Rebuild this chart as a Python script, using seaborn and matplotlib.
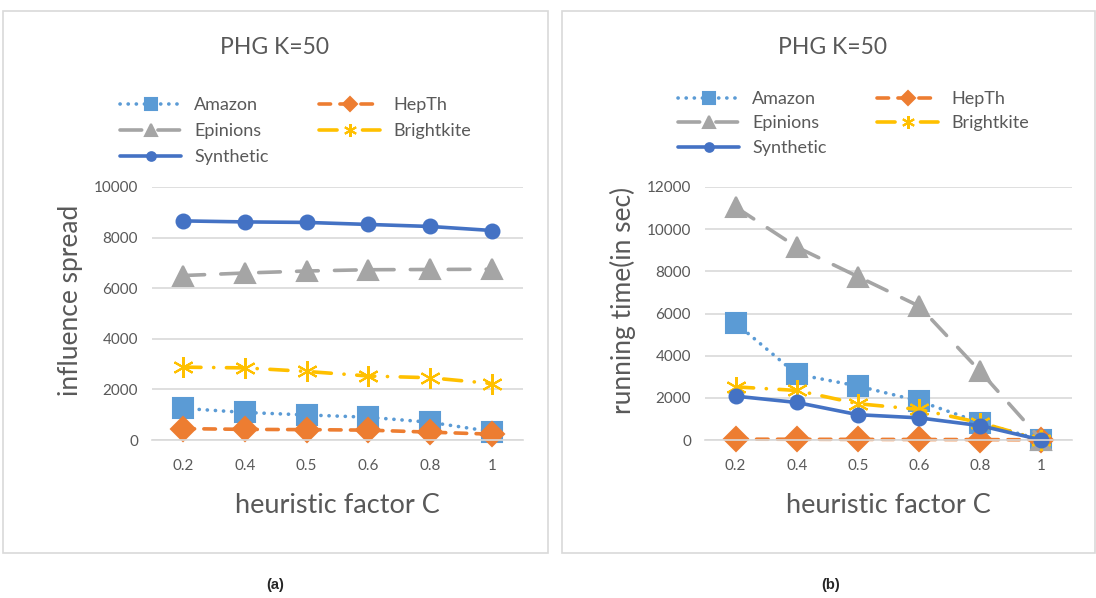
import matplotlib
matplotlib.use("Agg")
import matplotlib.pyplot as plt
import seaborn as sns
from matplotlib.patches import Rectangle

# Daten
c_labels = ["0.2", "0.4", "0.5", "0.6", "0.8", "1"]
series_names = ["Amazon", "HepTh", "Epinions", "Brightkite", "Synthetic"]

# (a) influence spread
spread_amazon = [1250, 1090, 990, 900, 700, 330]
spread_hepth = [450, 420, 410, 390, 310, 230]
spread_epinions = [6500, 6600, 6680, 6730, 6740, 6750]
spread_brightkite = [2880, 2850, 2710, 2530, 2460, 2230]
spread_synthetic = [8660, 8620, 8600, 8520, 8440, 8280]

# (b) running time
time_amazon = [5550, 3120, 2560, 1850, 820, 0]
time_hepth = [40, 35, 30, 25, 20, 10]
time_epinions = [11050, 9150, 7750, 6350, 3250, 0]
time_brightkite = [2520, 2350, 1720, 1450, 820, 0]
time_synthetic = [2080, 1780, 1200, 1050, 680, 0]

sns.set_style("white")
plt.rcParams['font.family'] = ['Lato', 'DejaVu Sans']
txt = "#595959"
grid = "#D9D9D9"

styles = {
    "Amazon": dict(color="#5B9BD5", marker="s", markersize=14, dashes=(0.05, 2.2)),
    "HepTh": dict(color="#ED7D31", marker="D", markersize=12, dashes=(3.2, 2.6)),
    "Epinions": dict(color="#A5A5A5", marker="^", markersize=15, dashes=(6, 4.5)),
    "Brightkite": dict(color="#FFC000", marker=(6, 2, 0), markersize=15, dashes=(5, 3.5, 0.05, 3.5)),
    "Synthetic": dict(color="#4472C4", marker="o", markersize=10, dashes=None),
}

fig = plt.figure(figsize=(10.96, 5.98), dpi=100)

# Rahmen der beiden Diagramme
W, H = 1096, 598
for x0, x1 in [(3, 548), (562, 1095)]:
    fig.patches.append(Rectangle((x0 / W, 1 - 553 / H), (x1 - x0) / W, (553 - 11) / H,
                                 transform=fig.transFigure, fill=False, edgecolor=grid, lw=1.2))


def draw(ax, data, ymax, ylabel):
    for name in series_names:
        st = styles[name]
        kw = dict(color=st["color"], marker=st["marker"], markersize=st["markersize"],
                  markerfacecolor=st["color"], markeredgecolor=st["color"], markeredgewidth=1.5,
                  linewidth=2.6, dash_capstyle="round", solid_capstyle="round", clip_on=False)
        if st["dashes"] is not None:
            kw["dashes"] = st["dashes"]
        sns.lineplot(x=c_labels, y=data[name], ax=ax, sort=False, label=name, **kw)
    ax.set_xlim(-0.5, 5.5)
    ax.set_ylim(0, ymax)
    ax.set_yticks(range(0, ymax + 1, 2000))
    ax.yaxis.grid(True, color=grid, lw=1.2)
    ax.set_axisbelow(True)
    for s in ["top", "right", "left"]:
        ax.spines[s].set_visible(False)
    ax.spines["bottom"].set_color(grid)
    ax.spines["bottom"].set_linewidth(1.2)
    ax.tick_params(length=0, labelsize=11, labelcolor=txt)
    ax.tick_params(axis="x", pad=14)
    ax.tick_params(axis="y", pad=10)
    ax.set_xlabel("heuristic factor C", fontsize=19.5, color=txt, labelpad=14)
    ax.set_ylabel(ylabel, fontsize=19, color=txt, labelpad=8)
    ax.yaxis.label.set_y(0.55)
    ax.get_legend().remove()


ax1 = fig.add_axes([152 / W, 1 - 440 / H, 371 / W, 253 / H])
draw(ax1, {"Amazon": spread_amazon, "HepTh": spread_hepth, "Epinions": spread_epinions,
           "Brightkite": spread_brightkite, "Synthetic": spread_synthetic}, 10000, "influence spread")

ax2 = fig.add_axes([705 / W, 1 - 440 / H, 367 / W, 253 / H])
draw(ax2, {"Amazon": time_amazon, "HepTh": time_hepth, "Epinions": time_epinions,
           "Brightkite": time_brightkite, "Synthetic": time_synthetic}, 12000, "running time(in sec)")

# Legenden
for ax, lx, ly, sp in [(ax1, 120, 97, 0.55), (ax2, 678, 91, 0.47)]:
    h, l = ax.get_legend_handles_labels()
    order = [0, 2, 4, 1, 3]
    fig.legend([h[i] for i in order], [l[i] for i in order], ncol=2, frameon=False,
               loc="upper left", bbox_to_anchor=(lx / W, 1 - ly / H), fontsize=13,
               labelcolor=txt, handlelength=3.4, handletextpad=0.7, columnspacing=2.8,
               labelspacing=sp, markerscale=0.62, borderaxespad=0, borderpad=0)

fig.text(275 / W, 1 - 48 / H, "PHG K=50", fontsize=16.5, color=txt, ha="center", va="center")
fig.text(833 / W, 1 - 48 / H, "PHG K=50", fontsize=16.5, color=txt, ha="center", va="center")
fig.text(275 / W, 1 - 585 / H, "(a)", fontsize=10.5, fontweight="bold", family="Liberation Sans",
         ha="center", va="center")
fig.text(831 / W, 1 - 585 / H, "(b)", fontsize=10.5, fontweight="bold", family="Liberation Sans",
         ha="center", va="center")

fig.savefig("out.png", dpi=100)
